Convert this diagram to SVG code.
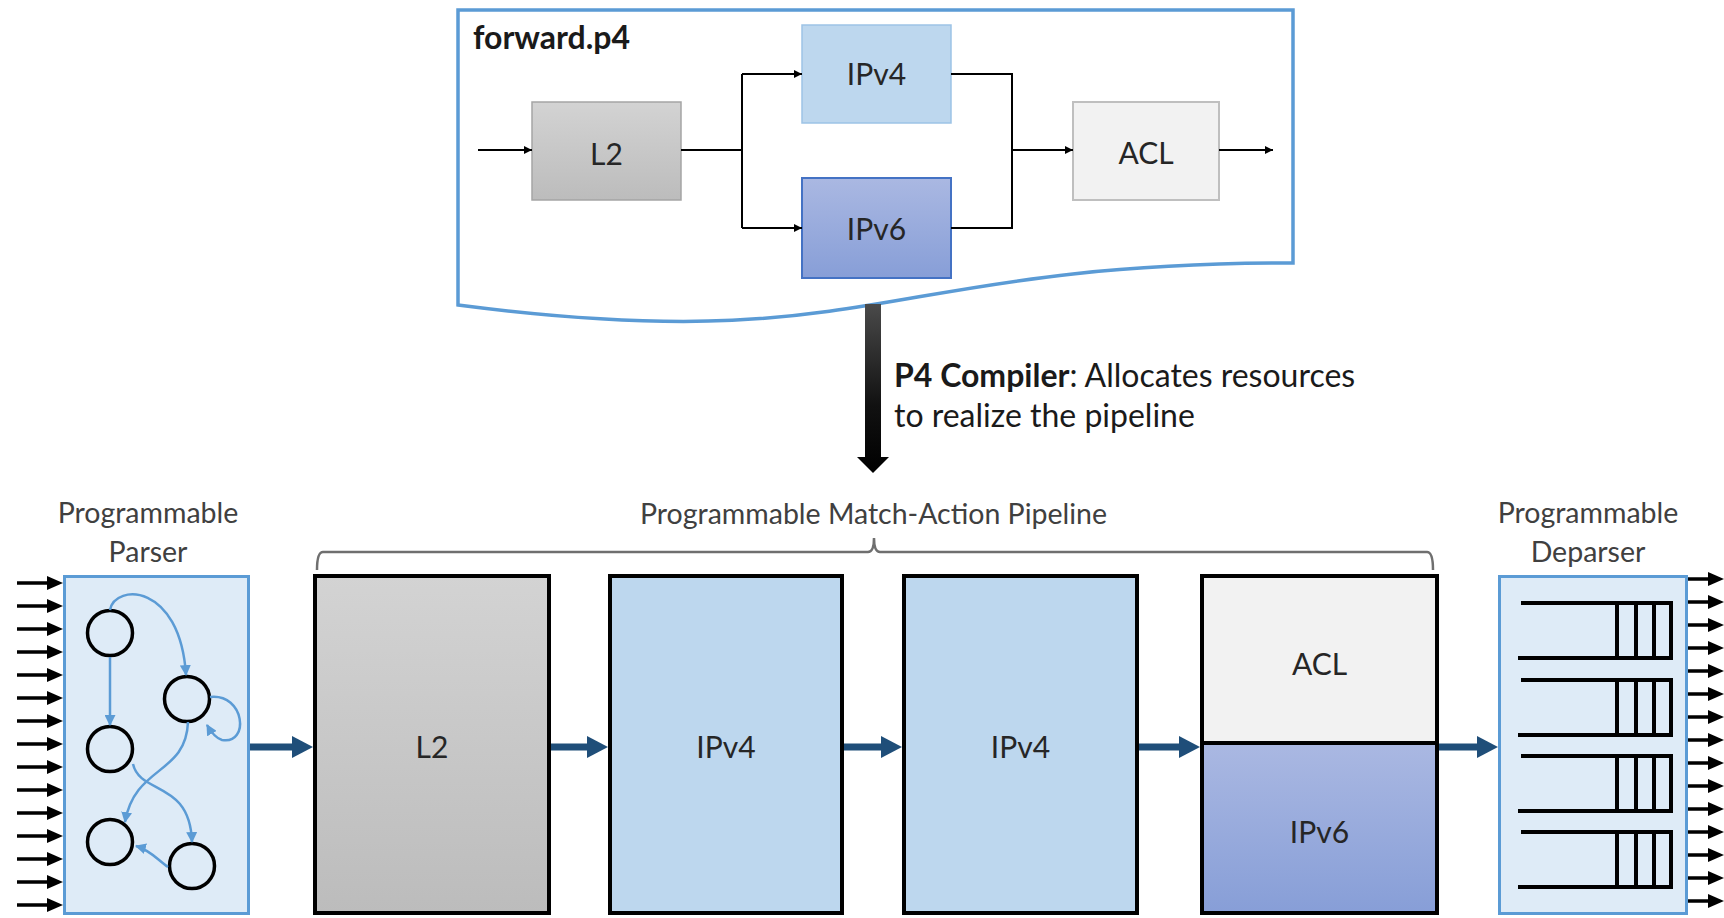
<svg xmlns="http://www.w3.org/2000/svg" width="1724" height="918" viewBox="0 0 1724 918">
  <defs>
    <linearGradient id="grayFill" x1="0" y1="0" x2="0" y2="1">
      <stop offset="0" stop-color="#d3d3d3"/>
      <stop offset="1" stop-color="#bcbcbc"/>
    </linearGradient>
    <linearGradient id="v6Fill" x1="0" y1="0" x2="0" y2="1">
      <stop offset="0" stop-color="#aab8e2"/>
      <stop offset="1" stop-color="#879ed7"/>
    </linearGradient>
    <linearGradient id="compileFill" gradientUnits="userSpaceOnUse" x1="0" y1="304" x2="0" y2="473">
      <stop offset="0" stop-color="#4a4a4a"/>
      <stop offset="0.6" stop-color="#111"/>
      <stop offset="1" stop-color="#000"/>
    </linearGradient>
    <marker id="ahSmall" viewBox="0 0 10 10" refX="10" refY="5" markerWidth="9" markerHeight="8" markerUnits="userSpaceOnUse" orient="auto">
      <path d="M0,0 L10,5 L0,10 z" fill="#000"/>
    </marker>
    <marker id="ahPipe" viewBox="0 -11 21 22" refX="0" refY="0" markerWidth="21" markerHeight="22" markerUnits="userSpaceOnUse" orient="auto">
      <path d="M0,-11 L21,0 L0,11 z" fill="#1f4e79"/>
    </marker>
    <marker id="ahState" viewBox="0 0 10 10" refX="9" refY="5" markerWidth="11" markerHeight="11" markerUnits="userSpaceOnUse" orient="auto">
      <path d="M0,0 L10,5 L0,10 z" fill="#5b9bd5"/>
    </marker>
    <g id="inArrow">
      <line x1="17" y1="0" x2="52" y2="0" stroke="#000" stroke-width="3.5"/>
      <path d="M47,-7 L63,0 L47,7 z" fill="#000"/>
    </g>
    <g id="outArrow">
      <line x1="1688" y1="0" x2="1713" y2="0" stroke="#000" stroke-width="3.5"/>
      <path d="M1708,-7 L1724,0 L1708,7 z" fill="#000"/>
    </g>
    <path id="queue" d="M1521,0 H1671 V55 H1518 M1617,0 V55 M1636,0 V55 M1654,0 V55" fill="none" stroke="#000" stroke-width="4"/>
  </defs>
  <style>
    .lbl { font-family: Lato, "Liberation Sans", sans-serif; font-size: 30px; fill: #262626; text-anchor: middle; }
    .cap { font-family: Lato, "Liberation Sans", sans-serif; font-size: 28.5px; fill: #404040; text-anchor: middle; }
    .note { font-family: Lato, "Liberation Sans", sans-serif; font-size: 32px; fill: #1a1a1a; }
    .wire { fill: none; stroke: #000; stroke-width: 2; }
    .stage { stroke: #000; stroke-width: 4; }
    .block { fill: #deebf7; stroke: #5b9bd5; stroke-width: 3; }
    .state { fill: none; stroke: #000; stroke-width: 3.5; }
    .trans { fill: none; stroke: #5b9bd5; stroke-width: 2.5; marker-end: url(#ahState); }
    .pipe { stroke: #1f4e79; stroke-width: 7; marker-end: url(#ahPipe); }
  </style>

  <rect width="1724" height="918" fill="#fff"/>

  <!-- P4 program sheet -->
  <g id="program">
    <path d="M458,10 H1293 V263 C875.5,263 875.5,359 458,305 Z" fill="#fff" stroke="#5b9bd5" stroke-width="3.5" stroke-linejoin="miter"/>
    <text x="473" y="49" font-family="Lato, 'Liberation Sans', sans-serif" font-size="32" font-weight="bold" fill="#1a1a1a">forward.p4</text>
  </g>

  <g id="prog-l2">
    <rect x="532" y="102" width="149" height="98" fill="url(#grayFill)" stroke="#a5a5a5" stroke-width="1.5"/>
    <text class="lbl" x="606.5" y="165">L2</text>
  </g>
  <g id="prog-ipv4">
    <rect x="802" y="25" width="149" height="98" fill="#bdd7ee" stroke="#9dc3e6" stroke-width="1.5"/>
    <text class="lbl" x="876.5" y="85">IPv4</text>
  </g>
  <g id="prog-ipv6">
    <rect x="802" y="178" width="149" height="100" fill="url(#v6Fill)" stroke="#4472c4" stroke-width="2"/>
    <text class="lbl" x="876.5" y="240">IPv6</text>
  </g>
  <g id="prog-acl">
    <rect x="1073" y="102" width="146" height="98" fill="#f2f2f2" stroke="#bfbfbf" stroke-width="2"/>
    <text class="lbl" x="1146" y="164">ACL</text>
  </g>

  <!-- program control flow -->
  <g id="program-flow">
    <line class="wire" x1="478" y1="150" x2="532" y2="150" marker-end="url(#ahSmall)"/>
    <path class="wire" d="M681,150 H742 M742,74 V228"/>
    <line class="wire" x1="742" y1="74" x2="802" y2="74" marker-end="url(#ahSmall)"/>
    <line class="wire" x1="742" y1="228" x2="802" y2="228" marker-end="url(#ahSmall)"/>
    <path class="wire" d="M951,74 H1012 V228 H951"/>
    <line class="wire" x1="1012" y1="150" x2="1073" y2="150" marker-end="url(#ahSmall)"/>
    <line class="wire" x1="1219" y1="150" x2="1273" y2="150" marker-end="url(#ahSmall)"/>
  </g>

  <!-- compiler step -->
  <g id="compiler">
    <path d="M865,304 H881 V457 H889 L873,473 L857,457 H865 Z" fill="url(#compileFill)"/>
    <text class="note" x="894" y="387"><tspan font-weight="bold">P4 Compiler</tspan>: Allocates resources</text>
    <text class="note" x="894" y="427">to realize the pipeline</text>
  </g>

  <!-- pipeline bracket -->
  <g id="pipeline-label">
    <text class="cap" x="873.5" y="524">Programmable Match-Action Pipeline</text>
    <path d="M317,570 Q317,552 323,552 H868 Q874,552 874,538 Q874,552 880,552 H1427 Q1433,552 1433,570" fill="none" stroke="#6f6f6f" stroke-width="2.5"/>
  </g>

  <!-- parser -->
  <g id="parser">
    <text class="cap" x="148" y="523">Programmable</text>
    <text class="cap" x="148" y="562">Parser</text>
    <rect class="block" x="64.5" y="576.5" width="184" height="337"/>
    <circle class="state" cx="110" cy="633" r="22.5"/>
    <circle class="state" cx="187" cy="699" r="22.5"/>
    <circle class="state" cx="110" cy="749" r="22.5"/>
    <circle class="state" cx="110" cy="842" r="22.5"/>
    <circle class="state" cx="192" cy="866" r="22.5"/>
    <path class="trans" d="M110,657 V725"/>
    <path class="trans" d="M110,610 C115,583 180,583 186,675"/>
    <path class="trans" d="M210,697 C245,693 250,745 222,740 C215,738 211,732 207,725"/>
    <path class="trans" d="M188,722 C186,775 135,765 125,822"/>
    <path class="trans" d="M133,764 C140,795 190,780 192,842"/>
    <path class="trans" d="M168,867 C158,860 150,850 136,846"/>
  </g>
  <g id="parser-inputs">
    <use href="#inArrow" y="583"/>
    <use href="#inArrow" y="606"/>
    <use href="#inArrow" y="629"/>
    <use href="#inArrow" y="652"/>
    <use href="#inArrow" y="675"/>
    <use href="#inArrow" y="698"/>
    <use href="#inArrow" y="721"/>
    <use href="#inArrow" y="744"/>
    <use href="#inArrow" y="767"/>
    <use href="#inArrow" y="790"/>
    <use href="#inArrow" y="813"/>
    <use href="#inArrow" y="836"/>
    <use href="#inArrow" y="859"/>
    <use href="#inArrow" y="882"/>
    <use href="#inArrow" y="905"/>
  </g>

  <!-- match-action stages -->
  <g id="stage-l2">
    <rect class="stage" x="315" y="576" width="234" height="337" fill="url(#grayFill)"/>
    <text class="lbl" x="432" y="758">L2</text>
  </g>
  <g id="stage-ipv4-a">
    <rect class="stage" x="610" y="576" width="232" height="337" fill="#bdd7ee"/>
    <text class="lbl" x="726" y="758">IPv4</text>
  </g>
  <g id="stage-ipv4-b">
    <rect class="stage" x="904" y="576" width="233" height="337" fill="#bdd7ee"/>
    <text class="lbl" x="1020.5" y="758">IPv4</text>
  </g>
  <g id="stage-acl-ipv6">
    <rect class="stage" x="1202" y="743" width="235" height="170" fill="url(#v6Fill)"/>
    <rect class="stage" x="1202" y="576" width="235" height="167" fill="#f2f2f2"/>
    <text class="lbl" x="1319.5" y="675">ACL</text>
    <text class="lbl" x="1319.5" y="843">IPv6</text>
  </g>

  <!-- deparser -->
  <g id="deparser">
    <text class="cap" x="1588" y="523">Programmable</text>
    <text class="cap" x="1588" y="562">Deparser</text>
    <rect class="block" x="1499.5" y="576.5" width="187" height="337"/>
    <use href="#queue" y="603"/>
    <use href="#queue" y="680"/>
    <use href="#queue" y="756"/>
    <use href="#queue" y="832"/>
  </g>
  <g id="deparser-outputs">
    <use href="#outArrow" y="579"/>
    <use href="#outArrow" y="602"/>
    <use href="#outArrow" y="625"/>
    <use href="#outArrow" y="648"/>
    <use href="#outArrow" y="671"/>
    <use href="#outArrow" y="694"/>
    <use href="#outArrow" y="717"/>
    <use href="#outArrow" y="740"/>
    <use href="#outArrow" y="763"/>
    <use href="#outArrow" y="786"/>
    <use href="#outArrow" y="809"/>
    <use href="#outArrow" y="832"/>
    <use href="#outArrow" y="855"/>
    <use href="#outArrow" y="878"/>
    <use href="#outArrow" y="901"/>
  </g>

  <!-- pipeline connectors -->
  <g id="pipeline-flow">
    <line class="pipe" x1="250" y1="747" x2="292" y2="747"/>
    <line class="pipe" x1="551" y1="747" x2="587" y2="747"/>
    <line class="pipe" x1="844" y1="747" x2="881" y2="747"/>
    <line class="pipe" x1="1139" y1="747" x2="1179" y2="747"/>
    <line class="pipe" x1="1439" y1="747" x2="1477" y2="747"/>
  </g>
</svg>
